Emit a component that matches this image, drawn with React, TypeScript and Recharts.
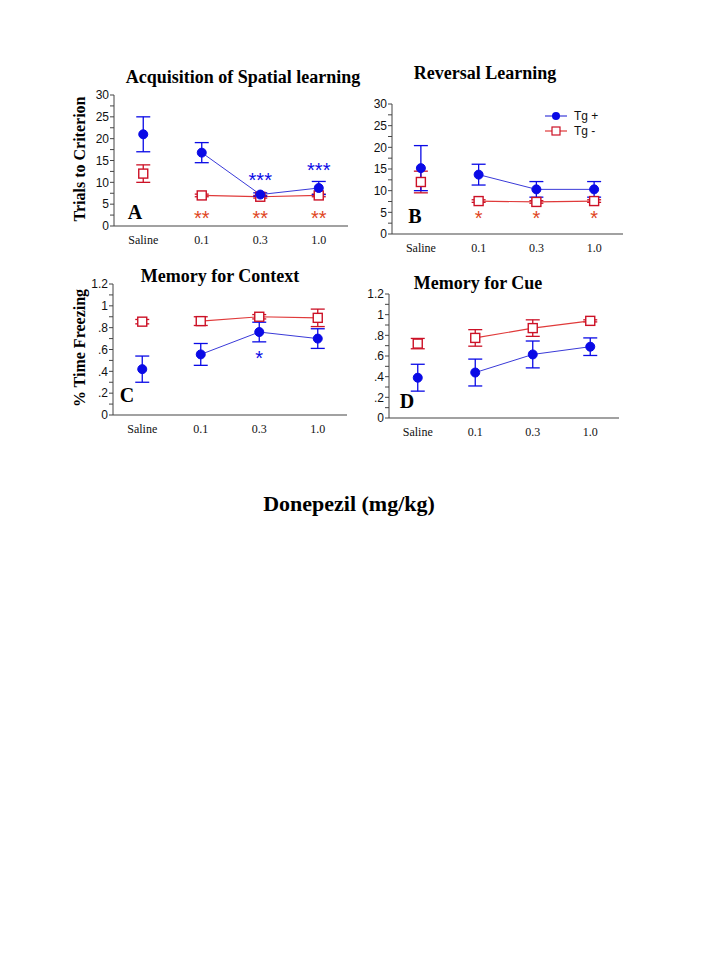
import React from 'react';
import { ComposedChart, Line, XAxis, YAxis, ErrorBar, ReferenceDot } from 'recharts';

const doses = ['Saline', '0.1', '0.3', '1.0'];

// A - acquisition of spatial learning (trials to criterion)
const acqTgPos = [21, 16.8, 7.2, 8.7];
const acqTgPosErr = [4, 2.3, 0.4, 1.5];
const acqTgNeg = [12, 7, 6.7, 7];
const acqTgNegErr = [2, 0.3, 0.3, 0.3];

// B - reversal learning
const revTgPos = [15.2, 13.7, 10.3, 10.3];
const revTgPosErr = [5.2, 2.4, 1.8, 1.8];
const revTgNeg = [12, 7.6, 7.4, 7.6];
const revTgNegErr = [2.5, 0.3, 0.3, 0.3];

// C - memory for context (fraction of time freezing)
const ctxTgPos = [0.42, 0.555, 0.76, 0.7];
const ctxTgPosErr = [0.12, 0.1, 0.09, 0.09];
const ctxTgNeg = [0.855, 0.86, 0.9, 0.89];
const ctxTgNegErr = [0.02, 0.04, 0.02, 0.08];

// D - memory for cue
const cueTgPos = [0.39, 0.44, 0.615, 0.69];
const cueTgPosErr = [0.13, 0.13, 0.13, 0.085];
const cueTgNeg = [0.72, 0.775, 0.87, 0.94];
const cueTgNegErr = [0.05, 0.08, 0.08, 0.01];

const trialTicks = [0, 2.5, 5, 7.5, 10, 12.5, 15, 17.5, 20, 22.5, 25, 27.5, 30];
const freezeTicks = [0, 0.1, 0.2, 0.3, 0.4, 0.5, 0.6, 0.7, 0.8, 0.9, 1, 1.1, 1.2];

const BLUE = '#0a0ae6';
const BLUE_LINE = '#3a3ad8';
const RED = '#cc1126';
const RED_LINE = '#e03a3a';
const STAR_RED = '#e0461e';
const SERIF = "'Liberation Serif', 'Times New Roman', serif";
const SANS = "'Liberation Sans', Arial, sans-serif";

// significance marks: dose, height in axis units, text, colour
const acqMarks = [
  { dose: '0.3', y: 10.6, text: '***', color: BLUE },
  { dose: '1.0', y: 12.9, text: '***', color: BLUE },
  { dose: '0.1', y: 1.8, text: '**', color: STAR_RED },
  { dose: '0.3', y: 1.8, text: '**', color: STAR_RED },
  { dose: '1.0', y: 1.8, text: '**', color: STAR_RED },
];
const revMarks = [
  { dose: '0.1', y: 3.8, text: '*', color: STAR_RED },
  { dose: '0.3', y: 3.8, text: '*', color: STAR_RED },
  { dose: '1.0', y: 3.8, text: '*', color: STAR_RED },
];
const ctxMarks = [{ dose: '0.3', y: 0.52, text: '*', color: BLUE }];

function buildRows(pos: number[], posErr: number[], neg: number[], negErr: number[]) {
  return doses.map((dose, i) => ({
    dose,
    pos: i > 0 ? pos[i] : null,
    posErr: i > 0 ? posErr[i] : undefined,
    posSal: i === 0 ? pos[i] : null,
    posSalErr: i === 0 ? posErr[i] : undefined,
    neg: i > 0 ? neg[i] : null,
    negErr: i > 0 ? negErr[i] : undefined,
    negSal: i === 0 ? neg[i] : null,
    negSalErr: i === 0 ? negErr[i] : undefined,
  }));
}

const trialFmt = (v: number) => (v % 5 === 0 ? String(v) : '');
const freezeFmt = (v: number) => {
  const k = Math.round(v * 10);
  if (k % 2 !== 0) return '';
  if (k === 0) return '0';
  if (k === 10) return '1';
  return (k / 10).toFixed(1).replace(/^0/, '');
};

const squareDot = (props: any) => {
  const { cx, cy, index } = props;
  if (cx == null || cy == null) return <g key={`sq-${index}`} />;
  return (
    <rect key={`sq-${index}`} x={cx - 4.5} y={cy - 4.5} width={9} height={9}
      fill="#fff" stroke={RED} strokeWidth={1.4} />
  );
};

interface PanelProps {
  rows: any[];
  left: number;
  top: number;
  width: number;
  height: number;
  domain: [number, number];
  ticks: number[];
  fmt: (v: number) => string;
  marks: { dose: string; y: number; text: string; color: string }[];
}

// top is the y of the axis maximum; the chart gets 10px of room above it for the top tick label
function Panel({ rows, left, top, width, height, domain, ticks, fmt, marks }: PanelProps) {
  return (
    <div style={{ position: 'absolute', left, top: top - 10 }}>
      <ComposedChart width={width} height={height + 10} data={rows}
        margin={{ top: 10, right: 0, bottom: 0, left: 0 }}>
        <XAxis dataKey="dose" scale="band" height={20} tickLine={false} tickSize={0} tickMargin={9}
          axisLine={{ stroke: '#444', strokeWidth: 1.2 }}
          tick={{ fontSize: 12, fontFamily: SERIF, fill: '#111' }} />
        <YAxis type="number" domain={domain} ticks={ticks} interval={0} width={54}
          tickFormatter={fmt} tickSize={4} tickMargin={1}
          axisLine={{ stroke: '#444' }} tickLine={{ stroke: '#444' }}
          tick={{ fontSize: 12, fontFamily: SANS, fill: '#111' }} />
        <Line dataKey="neg" stroke={RED_LINE} strokeWidth={1.2} dot={squareDot}
          isAnimationActive={false} connectNulls={false}>
          <ErrorBar dataKey="negErr" width={7} stroke={RED} strokeWidth={1.3} direction="y" />
        </Line>
        <Line dataKey="negSal" stroke={RED_LINE} dot={squareDot} isAnimationActive={false}>
          <ErrorBar dataKey="negSalErr" width={7} stroke={RED} strokeWidth={1.3} direction="y" />
        </Line>
        <Line dataKey="pos" stroke={BLUE_LINE} strokeWidth={1} isAnimationActive={false}
          dot={{ r: 4.5, fill: BLUE, stroke: BLUE, strokeWidth: 1 }} connectNulls={false}>
          <ErrorBar dataKey="posErr" width={7} stroke={BLUE} strokeWidth={1.3} direction="y" />
        </Line>
        <Line dataKey="posSal" stroke={BLUE_LINE} isAnimationActive={false}
          dot={{ r: 4.5, fill: BLUE, stroke: BLUE, strokeWidth: 1 }}>
          <ErrorBar dataKey="posSalErr" width={7} stroke={BLUE} strokeWidth={1.3} direction="y" />
        </Line>
        {marks.map((m, i) => (
          <ReferenceDot key={i} x={m.dose} y={m.y} r={0} fill="none" stroke="none" ifOverflow="visible"
            label={{ value: m.text, position: 'center', fill: m.color, fontSize: 20, fontFamily: SANS }} />
        ))}
      </ComposedChart>
    </div>
  );
}

function Txt({ x, y, size, children, rotate }: { x: number; y: number; size: number; children: React.ReactNode; rotate?: boolean }) {
  return (
    <div style={{
      position: 'absolute', left: x, top: y, whiteSpace: 'nowrap',
      transform: `translate(-50%, -50%)${rotate ? ' rotate(-90deg)' : ''}`,
      fontFamily: SERIF, fontWeight: 'bold', fontSize: size, color: '#000', lineHeight: 1,
    }}>{children}</div>
  );
}

function LegendBox({ x, y }: { x: number; y: number }) {
  return (
    <svg style={{ position: 'absolute', left: x, top: y }} width={70} height={30}>
      <line x1={0} y1={6} x2={22} y2={6} stroke={BLUE_LINE} strokeWidth={1.2} />
      <circle cx={11} cy={6} r={4} fill={BLUE} />
      <text x={29} y={10} fontSize={12} fontFamily={SANS} fill="#111">Tg +</text>
      <line x1={0} y1={21} x2={22} y2={21} stroke={RED_LINE} strokeWidth={1.2} />
      <rect x={7} y={17} width={8} height={8} fill="#fff" stroke={RED} strokeWidth={1.2} />
      <text x={29} y={25} fontSize={12} fontFamily={SANS} fill="#111">Tg -</text>
    </svg>
  );
}

export default function App() {
  return (
    <div style={{ position: 'absolute', left: 0, top: 0, width: 720, height: 960, background: '#fff' }}>
      <Panel rows={buildRows(acqTgPos, acqTgPosErr, acqTgNeg, acqTgNegErr)}
        left={60} top={95} width={288} height={151} domain={[0, 30]} ticks={trialTicks} fmt={trialFmt} marks={acqMarks} />
      <Panel rows={buildRows(revTgPos, revTgPosErr, revTgNeg, revTgNegErr)}
        left={338} top={104} width={285} height={150} domain={[0, 30]} ticks={trialTicks} fmt={trialFmt} marks={revMarks} />
      <Panel rows={buildRows(ctxTgPos, ctxTgPosErr, ctxTgNeg, ctxTgNegErr)}
        left={59} top={284} width={288} height={151} domain={[0, 1.2]} ticks={freezeTicks} fmt={freezeFmt} marks={ctxMarks} />
      <Panel rows={buildRows(cueTgPos, cueTgPosErr, cueTgNeg, cueTgNegErr)}
        left={335} top={294} width={284} height={144} domain={[0, 1.2]} ticks={freezeTicks} fmt={freezeFmt} marks={[]} />

      <Txt x={243} y={77} size={18}>Acquisition of Spatial learning</Txt>
      <Txt x={485} y={73} size={18}>Reversal Learning</Txt>
      <Txt x={220} y={276} size={18}>Memory for Context</Txt>
      <Txt x={478} y={283} size={18}>Memory for Cue</Txt>

      <Txt x={80} y={159} size={16} rotate>Trials to Criterion</Txt>
      <Txt x={80} y={348} size={16} rotate>% Time Freezing</Txt>

      <Txt x={135} y={212} size={20}>A</Txt>
      <Txt x={415} y={216} size={20}>B</Txt>
      <Txt x={127} y={395} size={20}>C</Txt>
      <Txt x={407} y={401} size={20}>D</Txt>

      <LegendBox x={545} y={110} />

      <Txt x={349} y={504} size={22}>Donepezil (mg/kg)</Txt>
    </div>
  );
}
